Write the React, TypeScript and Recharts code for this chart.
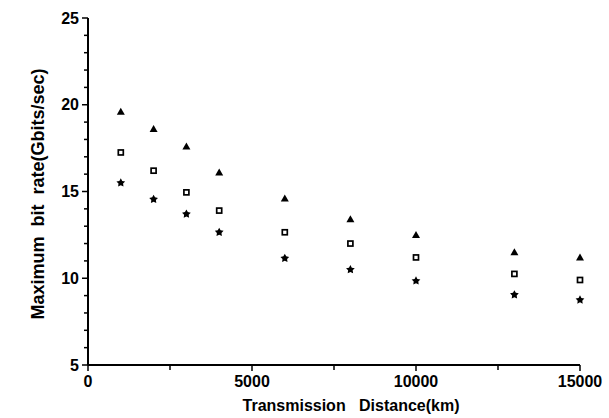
import React from 'react';
import { ScatterChart, Scatter, XAxis, YAxis } from 'recharts';

const distances = [1000, 2000, 3000, 4000, 6000, 8000, 10000, 13000, 15000];
const triangleRates = [19.6, 18.6, 17.6, 16.1, 14.6, 13.4, 12.5, 11.5, 11.2];
const squareRates = [17.25, 16.2, 14.95, 13.9, 12.65, 12.0, 11.2, 10.25, 9.9];
const starRates = [15.5, 14.55, 13.7, 12.65, 11.15, 10.5, 9.85, 9.05, 8.75];

const xTicks = [0, 2500, 5000, 7500, 10000, 12500, 15000];
const xLabelTicks = [0, 5000, 10000, 15000];
const yTicks = [5, 6, 7, 8, 9, 10, 11, 12, 13, 14, 15, 16, 17, 18, 19, 20, 21, 22, 23, 24, 25];
const yLabelTicks = [5, 10, 15, 20, 25];

const toPoints = (vals: number[]) => distances.map((d, i) => ({ x: d, y: vals[i] }));
const triangleData = toPoints(triangleRates);
const squareData = toPoints(squareRates);
const starData = toPoints(starRates);

const FONT = '"Liberation Sans", Arial, Helvetica, sans-serif';

const Triangle = (props: any) => {
  const { cx, cy } = props;
  const s = 4;
  return <polygon points={`${cx},${cy - s} ${cx - s},${cy + s * 0.75} ${cx + s},${cy + s * 0.75}`} fill="#000" />;
};

const Square = (props: any) => {
  const { cx, cy } = props;
  return <rect x={cx - 2.5} y={cy - 2.5} width={5} height={5} fill="#fff" stroke="#000" strokeWidth={1.7} />;
};

const Star = (props: any) => {
  const { cx, cy } = props;
  const outer = 4.6;
  const inner = 2.4;
  const pts: string[] = [];
  for (let i = 0; i < 10; i++) {
    const r = i % 2 === 0 ? outer : inner;
    const a = (Math.PI / 5) * i - Math.PI / 2;
    pts.push(`${cx + r * Math.cos(a)},${cy + r * Math.sin(a)}`);
  }
  return <polygon points={pts.join(' ')} fill="#000" />;
};

const XTick = (props: any) => {
  const { x, y, payload } = props;
  const major = xLabelTicks.includes(payload.value);
  return (
    <g>
      <line x1={x} y1={y} x2={x} y2={y + (major ? 6 : 5)} stroke="#000" strokeWidth={1.5} />
      {major && (
        <text x={x} y={y + 22} textAnchor="middle" fontFamily={FONT} fontWeight="bold" fontSize={16} fill="#000">
          {payload.value}
        </text>
      )}
    </g>
  );
};

const YTick = (props: any) => {
  const { x, y, payload } = props;
  const major = yLabelTicks.includes(payload.value);
  return (
    <g>
      <line x1={x} y1={y} x2={x - (major ? 6 : 4)} y2={y} stroke="#000" strokeWidth={1.5} />
      {major && (
        <text x={x - 9} y={y + 5.5} textAnchor="end" fontFamily={FONT} fontWeight="bold" fontSize={16} fill="#000">
          {payload.value}
        </text>
      )}
    </g>
  );
};

const XTitle = (props: any) => {
  const { viewBox } = props;
  return (
    <text
      x={viewBox.x + viewBox.width / 2 + 17}
      y={viewBox.y + 46}
      textAnchor="middle"
      fontFamily={FONT}
      fontWeight="bold"
      fontSize={16}
      fill="#000"
      style={{ whiteSpace: 'pre' }}
    >
      {'Transmission   Distance(km)'}
    </text>
  );
};

const YTitle = (props: any) => {
  const { viewBox } = props;
  const cx = viewBox.x + 44;
  const cy = viewBox.y + viewBox.height / 2 + 2.5;
  return (
    <text
      x={cx}
      y={cy}
      transform={`rotate(-90, ${cx}, ${cy})`}
      textAnchor="middle"
      fontFamily={FONT}
      fontWeight="bold"
      fontSize={18}
      fill="#000"
      style={{ whiteSpace: 'pre' }}
    >
      {'Maximum  bit  rate(Gbits/sec)'}
    </text>
  );
};

export default function App() {
  return (
    <div style={{ position: 'absolute', left: 0, top: 0, width: 609, height: 418, background: '#fff' }}>
      <ScatterChart width={609} height={418} margin={{ top: 18, right: 29, bottom: 0, left: 0 }}>
        <XAxis
          type="number"
          dataKey="x"
          domain={[0, 15000]}
          ticks={xTicks}
          interval={0}
          tickSize={0}
          tickMargin={0}
          tickLine={false}
          height={53}
          axisLine={{ stroke: '#000', strokeWidth: 2 }}
          tick={<XTick />}
          label={<XTitle />}
        />
        <YAxis
          type="number"
          dataKey="y"
          domain={[5, 25]}
          ticks={yTicks}
          interval={0}
          tickSize={0}
          tickMargin={0}
          tickLine={false}
          width={88}
          axisLine={{ stroke: '#000', strokeWidth: 2 }}
          tick={<YTick />}
          label={<YTitle />}
        />
        <Scatter data={triangleData} shape={<Triangle />} isAnimationActive={false} />
        <Scatter data={squareData} shape={<Square />} isAnimationActive={false} />
        <Scatter data={starData} shape={<Star />} isAnimationActive={false} />
      </ScatterChart>
    </div>
  );
}
